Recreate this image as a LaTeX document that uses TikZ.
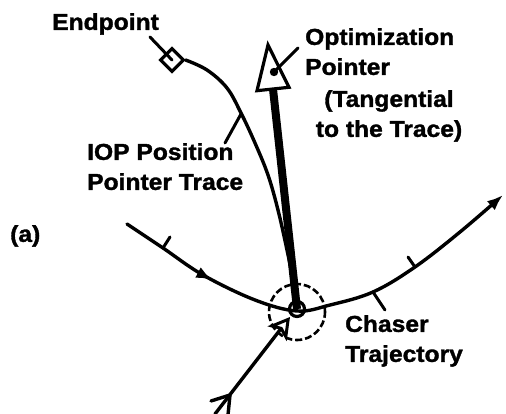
\documentclass[tikz,border=0pt]{standalone}
\usepackage{fontspec}
\setmainfont{Liberation Sans}[FakeStretch=1.07, BoldFeatures={FakeBold=1.5}]
\usetikzlibrary{arrows.meta,decorations.markings}
\tikzset{
  lbl/.style={inner sep=0pt, font=\fontsize{23}{30}\selectfont\bfseries},
  thin/.style={line width=3.4pt, line cap=round, line join=round},
  leader/.style={line width=3pt, line cap=round},
}
\begin{document}
\begin{tikzpicture}[x=1pt,y=-1pt]
\useasboundingbox (0,0) rectangle (506,414);
% Chaser trajectory
\draw[thin, -{Latex[length=16pt,width=12pt]},
  postaction={decorate},
  decoration={markings, mark=at position 0.235 with {\arrow{Latex[length=16pt,width=12pt]}}}]
  plot[smooth, tension=0.6] coordinates {(127,224) (163,248) (203,275) (255,300) (297,311) (330,305) (373,292) (415,267) (460,232) (503,195)};
% ticks on chaser trajectory
\draw[leader] (163,248) -- (170,237);
\draw[leader] (415,267) -- (408,257);
\draw[leader] (373,292) -- (385,310);
% endpoint marker
\node[draw, rectangle, rotate=45, minimum size=16pt, inner sep=0pt, line width=3.2pt] (ep) at (172,60) {};
\draw[leader] (150,37) -- (ep.center);
% IOP position pointer trace
\draw[thin] plot[smooth, tension=0.6] coordinates {(ep.south east) (207,70) (227,88) (241,113) (255,143) (268,175) (278,210) (287,250) (294,285) (297,309)};
\draw[leader] (225,143) -- (241,114);
% optimization pointer
\coordinate (pbase) at (273,89);
\coordinate (ptip) at (268,45);
\coordinate (chaser) at (297,309);
\draw[line width=8pt] (chaser) -- (pbase);
\draw[line width=3.2pt, line join=miter, fill=white] (ptip) -- (257,90.7) -- (289,87.3) -- cycle;
\fill (274,72) circle (4.2pt);
\draw[leader] (274,72) -- (298,48);
% chaser position circles
\draw[line width=3.2pt] (chaser) circle (7.5pt);
\draw[line width=2.6pt, dash pattern=on 7pt off 3pt] (297,312) circle (28pt);
% approaching line
\coordinate (tail) at (215,414);
\coordinate (atip) at (290,317);
\draw[thin, -{Stealth[fill=white, length=21pt, width=24pt, inset=5pt, line width=3pt]}] (tail) -- (atip);
\draw[thin] (211,401) -- (230,395) -- (228,415);
% labels
\node[lbl, anchor=north west] (tEnd) at (52,13) {Endpoint};
\node[lbl, anchor=north west, align=left] (tOpt) at (305,28) {Optimization\\Pointer};
\node[lbl, anchor=north, align=center] (tTan) at (389,90) {(Tangential\\to the Trace)};
\node[lbl, anchor=north west, align=left] (tIOP) at (87,143) {IOP Position\\Pointer Trace};
\node[lbl, anchor=north west] (ta) at (10,225) {(a)};
\node[lbl, anchor=north west, align=left] (tCh) at (345,315) {Chaser\\Trajectory};
\end{tikzpicture}
\end{document}
